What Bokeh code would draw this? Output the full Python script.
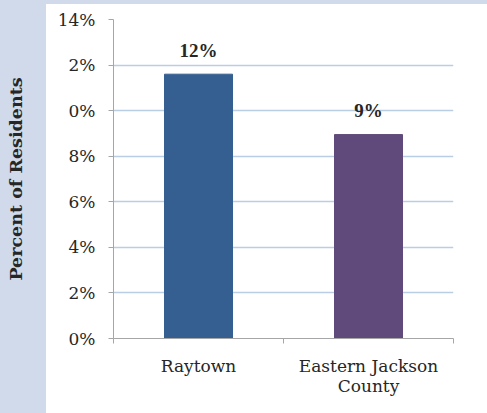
from bokeh.plotting import figure
from bokeh.models import Range1d, FixedTicker, ColumnDataSource
from bokeh.embed import file_html
from bokeh.resources import INLINE

categories = ["Raytown", "Eastern Jackson\nCounty"]
values = [11.6, 8.95]
value_labels = ["12%", "9%"]
colors = ["#365F91", "#604A7B"]
y_ticks = [0, 2, 4, 6, 8, 10, 12, 14]
y_tick_labels = ["0%", "2%", "4%", "6%", "8%", "0%", "2%", "14%"]

FONT = "DejaVu Serif"
BAND = "#D0DAEA"
TXT = "#262626"

xpos = [i + 0.5 for i in range(len(categories))]

p = figure(width=487, height=413, output_backend="svg", toolbar_location=None,
           x_range=Range1d(0, len(categories)), y_range=Range1d(0, 14),
           min_border_left=113, min_border_right=34, min_border_top=19,
           min_border_bottom=75)
p.border_fill_color = None
p.background_fill_color = "white"
p.outline_line_color = None
p.styles = {
    "background": f"linear-gradient(to bottom, {BAND} 4px, transparent 4px), "
                  f"linear-gradient(to right, {BAND} 46px, white 46px)"
}

src = ColumnDataSource(dict(x=xpos, top=values, color=colors, label=value_labels))
p.vbar(x="x", top="top", width=0.4, bottom=0, color="color", source=src)
p.text(x="x", y="top", text="label", source=src, text_align="center",
       text_baseline="alphabetic", y_offset=-24, text_font=FONT,
       text_font_size="19px", text_font_style="bold", text_color=TXT)

# axes
yax = p.yaxis[0]
yax.ticker = FixedTicker(ticks=y_ticks, minor_ticks=[])
yax.major_label_overrides = {t: l for t, l in zip(y_ticks, y_tick_labels)}
yax.axis_line_color = "#A6A6A6"
yax.major_tick_line_color = "#A6A6A6"
yax.major_tick_out = 5
yax.major_tick_in = 0
yax.minor_tick_line_color = None
yax.major_label_text_font = FONT
yax.major_label_text_font_size = "17px"
yax.major_label_text_color = TXT
yax.major_label_standoff = 13
yax.axis_label = "Percent of Residents"
yax.axis_label_text_font = FONT
yax.axis_label_text_font_size = "17.5px"
yax.axis_label_text_font_style = "bold"
yax.axis_label_text_color = TXT
yax.axis_label_standoff = 29

xax = p.xaxis[0]
xax.ticker = FixedTicker(ticks=xpos, minor_ticks=[0, 1, 2])
xax.major_label_overrides = {x: c for x, c in zip(xpos, categories)}
xax.axis_line_color = "#A6A6A6"
xax.major_tick_line_color = None
xax.major_tick_out = 0
xax.major_tick_in = 0
xax.minor_tick_line_color = "#A6A6A6"
xax.minor_tick_out = 5
xax.minor_tick_in = 0
xax.major_label_text_font = FONT
xax.major_label_text_font_size = "17px"
xax.major_label_text_color = TXT
xax.major_label_text_line_height = 1.0
xax.major_label_standoff = 12

p.xgrid.grid_line_color = None
p.ygrid.ticker = FixedTicker(ticks=y_ticks[1:])
p.ygrid.grid_line_color = "#B9CDE5"
p.ygrid.grid_line_width = 1.5

open("out.html", "w").write(file_html(p, INLINE))
